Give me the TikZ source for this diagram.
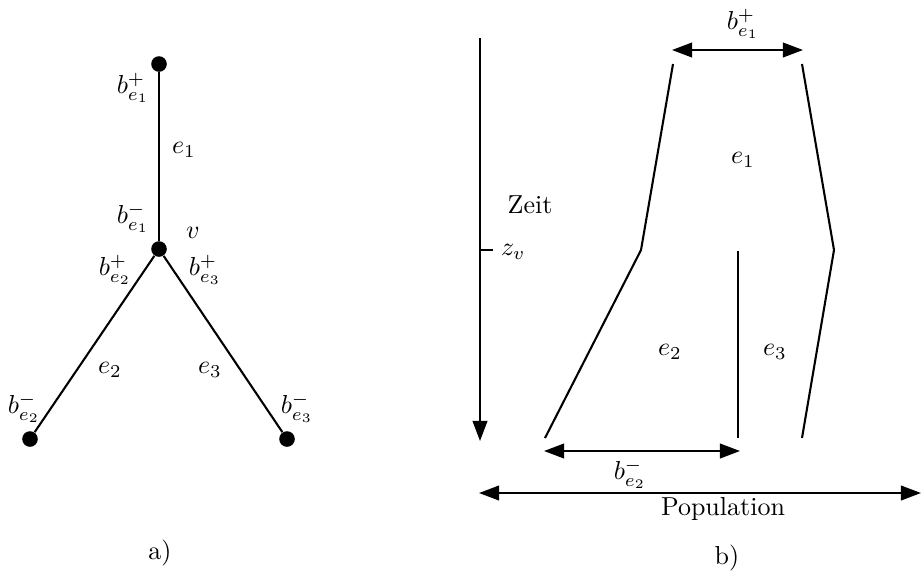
\documentclass[tikz,border=0pt]{standalone}
\usetikzlibrary{arrows.meta}
\begin{document}
\begin{tikzpicture}[x=0.3846pt,y=-0.3846pt,
  edge/.style={line width=0.8pt},
  dot/.style={circle,fill=black,inner sep=0pt,minimum size=6pt},
  lbl/.style={inner sep=1pt},
  dbl/.style={line width=0.8pt,{Triangle[length=7.7pt,width=5.6pt]}-{Triangle[length=7.7pt,width=5.6pt]}},
  sgl/.style={line width=0.8pt,-{Triangle[length=7.7pt,width=5.6pt]}}]
\useasboundingbox (0,0) rectangle (921,575);
% ---- a) graph
\node[dot] (top) at (159,64) {};
\node[dot] (v) at (159,249) {};
\node[dot] (bl) at (30,439) {};
\node[dot] (br) at (287,439) {};
\draw[edge] (top) -- (v);
\draw[edge] (v) -- (bl);
\draw[edge] (v) -- (br);
\node[lbl] (l1) at (133,88) {$b_{e_1}^+$};
\node[lbl] (l2) at (184,150) {$e_1$};
\node[lbl] (l3) at (133,218) {$b_{e_1}^-$};
\node[lbl] (l4) at (193,233) {$v$};
\node[lbl] (l5) at (115,270) {$b_{e_2}^+$};
\node[lbl] (l6) at (205,270) {$b_{e_3}^+$};
\node[lbl] (l7) at (110,370) {$e_2$};
\node[lbl] (l8) at (210,370) {$e_3$};
\node[lbl] (l9) at (24,408) {$b_{e_2}^-$};
\node[lbl] (l10) at (297,408) {$b_{e_3}^-$};
\node[lbl] (la) at (160,553) {a)};
% ---- b) population picture
\coordinate (t0) at (480,38);
\coordinate (t1) at (480,441);
\draw[sgl] (t0) -- (t1);
\coordinate (zv0) at (480,250);
\coordinate (zv1) at (493,250);
\draw[edge] (zv0) -- (zv1);
\node[lbl,anchor=west] (zv) at (498,252) {$z_v$};
\node[lbl] (zeit) at (530,205) {Zeit};
% arrow b_e1^+
\coordinate (a0) at (672,50);
\coordinate (a1) at (803,50);
\draw[dbl] (a0) -- (a1);
\node[lbl] (ba) at (743,24) {$b_{e_1}^+$};
% boundaries
\coordinate (L0) at (673,64);
\coordinate (L1) at (641,250);
\coordinate (L2) at (545,438);
\coordinate (R0) at (802,64);
\coordinate (R1) at (834,250);
\coordinate (R2) at (802,438);
\coordinate (M0) at (738,251);
\coordinate (M1) at (738,438);
\draw[edge] (L0) -- (L1) -- (L2);
\draw[edge] (R0) -- (R1) -- (R2);
\draw[edge] (M0) -- (M1);
\node[lbl] (re1) at (743,160) {$e_1$};
\node[lbl] (re2) at (670,352) {$e_2$};
\node[lbl] (re3) at (775,352) {$e_3$};
% arrow b_e2^-
\coordinate (c0) at (544,451);
\coordinate (c1) at (740,451);
\draw[dbl] (c0) -- (c1);
\node[lbl] (bc) at (630,474) {$b_{e_2}^-$};
% population arrow
\coordinate (p0) at (479,493);
\coordinate (p1) at (921,493);
\draw[dbl] (p0) -- (p1);
\node[lbl] (pop) at (723,509) {Population};
\node[lbl] (lb) at (727,558) {b)};
\end{tikzpicture}
\end{document}
